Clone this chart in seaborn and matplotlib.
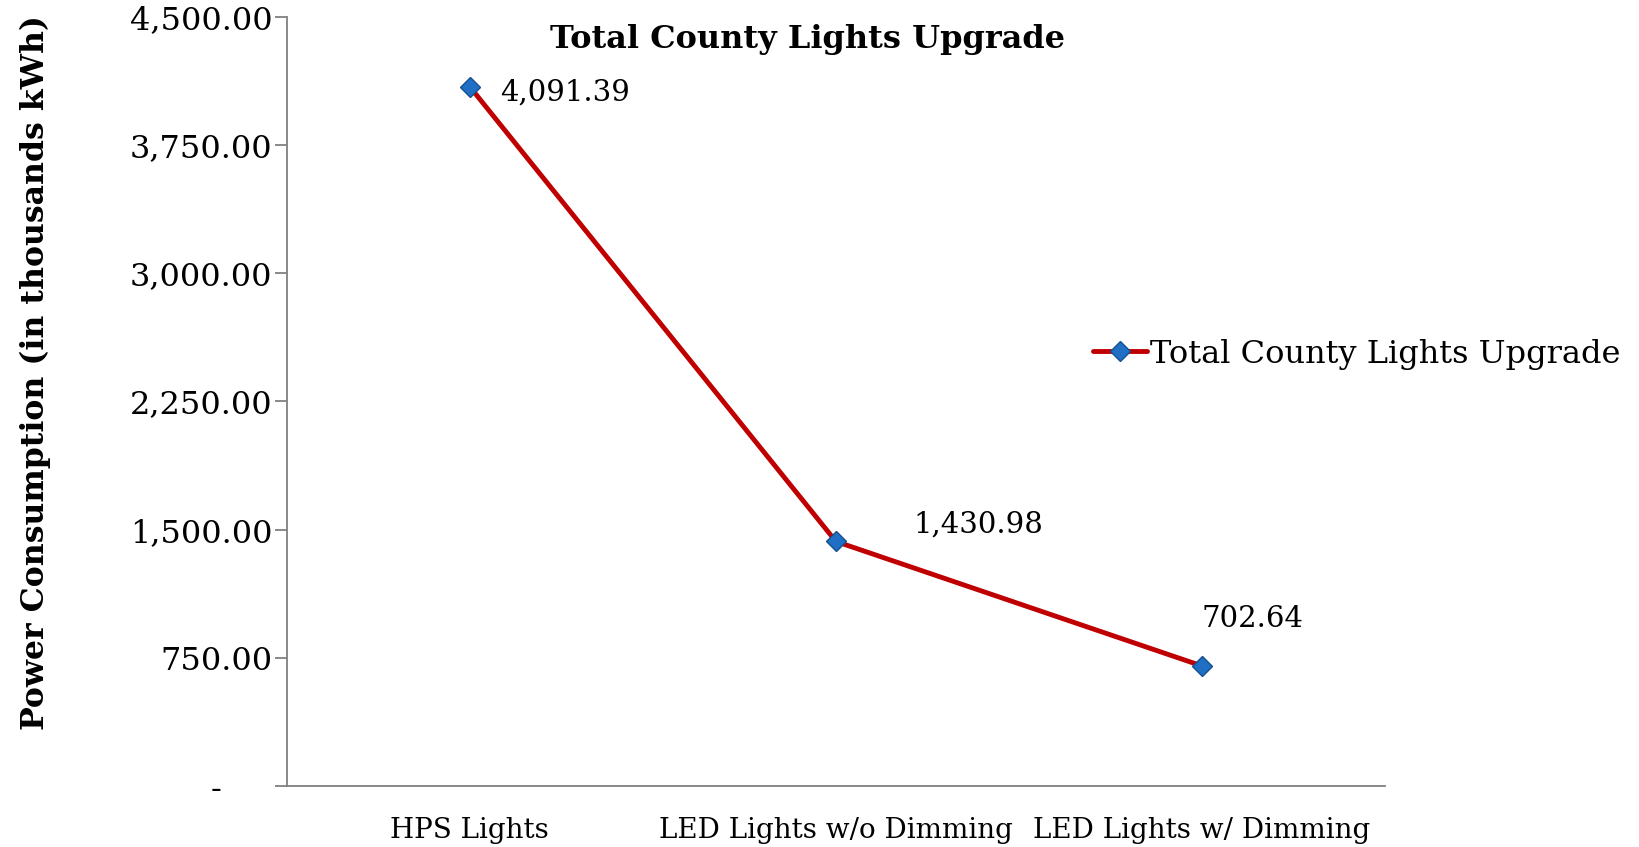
import matplotlib
matplotlib.use("Agg")
import matplotlib.pyplot as plt
from matplotlib.ticker import FuncFormatter, FixedLocator
import seaborn as sns
import pandas as pd

categories = ["HPS Lights", "LED Lights w/o Dimming", "LED Lights w/ Dimming"]
power = [4091.39, 1430.98, 702.64]
label_offsets = [(22, -4), (56, 12), (0, 34)]
series_name = "Total County Lights Upgrade"

sns.set_style("white")
plt.rcParams['font.family'] = ['DejaVu Serif']
plt.rcParams['text.color'] = 'black'
plt.rcParams['axes.labelcolor'] = 'black'

df = pd.DataFrame({"x": range(len(categories)), "y": power, "s": series_name})

fig = plt.figure(figsize=(16.39, 8.47), dpi=100)
ax = fig.add_axes([0.175, 0.072, 0.67, 0.908])

sns.lineplot(data=df, x="x", y="y", hue="s", palette=["#C00000"], linewidth=3.5,
             marker="D", markersize=10, markerfacecolor="#1F6FC5",
             markeredgecolor="#17508F", markeredgewidth=1, ax=ax)

for i, v in enumerate(power):
    dx, dy = label_offsets[i]
    ax.annotate(f"{v:,.2f}", (i, v), xytext=(dx, dy), textcoords="offset points",
                fontsize=21, ha="left", va="center", color="black")

ax.set_xlim(-0.5, 2.5)
ax.set_ylim(0, 4500)
ax.yaxis.set_major_locator(FixedLocator([0, 750, 1500, 2250, 3000, 3750, 4500]))
ax.yaxis.set_major_formatter(FuncFormatter(lambda v, p: "-     " if v == 0 else f"{v:,.2f}"))
ax.set_xticks(range(len(categories)))
ax.set_xticklabels(categories)
ax.set_xticks([-0.5, 0.5, 1.5, 2.5], minor=True)
ax.tick_params(axis="x", which="major", length=0, labelsize=20, pad=22, labelcolor="black")
ax.tick_params(axis="x", which="minor", length=8, width=1.3, color="#808080", direction="out")
ax.tick_params(axis="y", length=8.5, width=1.3, color="#808080", labelsize=23, left=True, pad=2,
               labelcolor="black")
ax.set_xlabel("")
ax.set_ylabel("Power Consumption (in thousands kWh)", fontsize=22.7, fontweight="bold")
ax.yaxis.set_label_coords(-0.215, 0.538)

for s in ["top", "right"]:
    ax.spines[s].set_visible(False)
for s in ["left", "bottom"]:
    ax.spines[s].set_color("#808080")
    ax.spines[s].set_linewidth(1.3)

ax.text(0.474, 0.971, "Total County Lights Upgrade", transform=ax.transAxes,
        ha="center", va="center", fontsize=23, fontweight="bold")

ax.legend(loc="center left", bbox_to_anchor=(0.657, 0.582), bbox_transform=fig.transFigure,
          frameon=False, fontsize=23, handlelength=1.7, handletextpad=0.1, borderpad=0,
          labelcolor="black")

fig.savefig("out.png", dpi=100)
